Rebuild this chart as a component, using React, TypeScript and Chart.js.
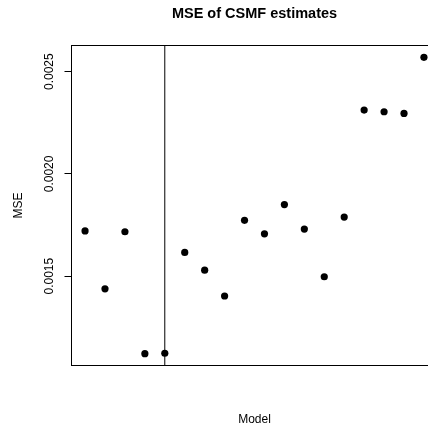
import { useEffect, useRef } from "react";
import { Chart, registerables } from "chart.js";

Chart.register(...registerables);

const TITLE = "MSE of CSMF estimates";
const X_TITLE = "Model";
const Y_TITLE = "MSE";

const MODELS = [1, 2, 3, 4, 5, 6, 7, 8, 9, 10, 11, 12, 13, 14, 15, 16, 17, 18];
const MSE = [
  0.001721, 0.001438, 0.001717, 0.001121, 0.001123, 0.001616, 0.001529, 0.001403, 0.001773,
  0.001707, 0.00185, 0.00173, 0.001497, 0.001789, 0.002312, 0.002304, 0.002296, 0.00257,
];
const Y_TICKS = [0.0015, 0.002, 0.0025];
const Y_TICK_LABELS = ["0.0015", "0.0020", "0.0025"];
const DIVIDER_AT = 5;
const X_MIN = 0.32;
const X_MAX = 18.68;
const Y_MIN = 0.001063;
const Y_MAX = 0.002628;

const FONT = "'Liberation Sans', Arial, Helvetica, sans-serif";

const framePlugin = {
  id: "frame",
  afterDatasetsDraw(chart: any) {
    const { ctx, chartArea: a, scales } = chart;
    ctx.save();
    ctx.strokeStyle = "#000";
    ctx.lineWidth = 1;
    ctx.strokeRect(a.left, a.top, a.right - a.left, a.bottom - a.top);
    const x = scales.x.getPixelForValue(DIVIDER_AT);
    ctx.beginPath();
    ctx.moveTo(x, a.top);
    ctx.lineTo(x, a.bottom);
    ctx.stroke();
    ctx.restore();
  },
};

export default function App() {
  const ref = useRef<HTMLCanvasElement | null>(null);

  useEffect(() => {
    document.body.style.margin = "0";
    const canvas = ref.current;
    if (!canvas) return;
    const chart = new Chart(canvas, {
      type: "scatter",
      data: {
        datasets: [
          {
            data: MODELS.map((m, i) => ({ x: m, y: MSE[i] })),
            backgroundColor: "#000",
            borderWidth: 0,
            pointRadius: 3.6,
            pointHoverRadius: 3.6,
          },
        ],
      },
      options: {
        animation: false,
        responsive: false,
        events: [],
        layout: { padding: { left: 0, right: 71.5, top: 0, bottom: 0 } },
        plugins: {
          legend: { display: false },
          tooltip: { enabled: false },
          title: {
            display: true,
            fullSize: false,
            text: TITLE,
            color: "#000",
            font: { family: FONT, size: 14.5, weight: "bold" },
            padding: { top: 5.3, bottom: 22.8 },
          },
        },
        scales: {
          x: {
            type: "linear",
            position: "bottom",
            min: X_MIN,
            max: X_MAX,
            ticks: { display: false },
            grid: { display: false },
            border: { display: false },
            title: {
              display: true,
              text: X_TITLE,
              color: "#000",
              font: { family: FONT, size: 12 },
              padding: { top: 0, bottom: 3.5 },
            },
            afterFit: (s: any) => {
              s.height = 64.5;
            },
          },
          y: {
            type: "linear",
            position: "left",
            min: Y_MIN,
            max: Y_MAX,
            afterBuildTicks: (s: any) => {
              s.ticks = Y_TICKS.map((v) => ({ value: v }));
            },
            ticks: {
              color: "#000",
              font: { family: FONT, size: 12 },
              minRotation: 90,
              maxRotation: 90,
              crossAlign: "center",
              padding: -3.6,
              callback: (_v: any, i: number) => Y_TICK_LABELS[i],
            },
            grid: {
              display: true,
              drawOnChartArea: false,
              drawTicks: true,
              tickLength: 7,
              color: "#000",
              lineWidth: 1,
            },
            border: { display: false },
            title: {
              display: true,
              text: Y_TITLE,
              color: "#000",
              font: { family: FONT, size: 12 },
              padding: { top: 11.5, bottom: 0 },
            },
            afterFit: (s: any) => {
              s.width = 71.5;
            },
          },
        },
      } as any,
      plugins: [framePlugin],
    });
    return () => chart.destroy();
  }, []);

  return (
    <div style={{ width: 428, height: 430, overflow: "hidden", position: "relative" }}>
      <canvas ref={ref} width={509} height={430} style={{ width: 509, height: 430, display: "block" }} />
    </div>
  );
}
